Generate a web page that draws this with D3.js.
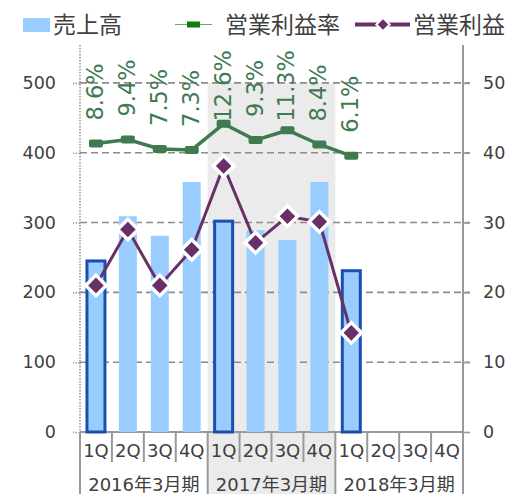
<!DOCTYPE html>
<html>
<head>
<meta charset="utf-8">
<script src="https://cdn.jsdelivr.net/npm/d3@7"></script>
<style>
  body { margin: 0; background: #fff; }
  text { font-family: "DejaVu Sans", "Noto Sans CJK JP", sans-serif; fill: #404040; }
</style>
</head>
<body>
<div id="chart"></div>
<script>
// chart data
var years = ['2016年3月期', '2017年3月期', '2018年3月期'];
var quarters = ['1Q', '2Q', '3Q', '4Q'];
var sales = [245, 309, 281, 358, 302, 289, 275, 358, 231];
var profit = [21, 29, 21, 26.1, 38.1, 27.1, 30.9, 30.1, 14.2];
var rate = [8.6, 9.4, 7.5, 7.3, 12.6, 9.3, 11.3, 8.4, 6.1];
var leftTicks = [0, 100, 200, 300, 400, 500];
var rightTicks = [0, 10, 20, 30, 40, 50];

var width = 511, height = 494;
var plotLeft = 80, plotRight = 463, plotTop = 48, plotBottom = 432;

var green = '#3f7a50', purple = '#673067', barFill = '#99ccff', barEdge = '#1a4fb0';

var svg = d3.select('#chart').append('svg').attr('width', width).attr('height', height);

// one slot per quarter
var slots = [];
years.forEach(function(y, yi) {
  quarters.forEach(function(q, qi) {
    slots.push({ year: y, yi: yi, q: q, qi: qi, key: y + q });
  });
});

var x = d3.scaleBand().domain(slots.map(function(d) { return d.key; })).range([plotLeft, plotRight]);
var yLeft = d3.scaleLinear().domain([0, 550]).range([plotBottom, plotTop]);
var yRight = d3.scaleLinear().domain([0, 55]).range([plotBottom, plotTop]);
// hidden third axis for the margin line
var yRate = d3.scaleLinear().domain([-50, 28]).range([plotBottom, plotTop]);

var bw = x.bandwidth();
var barW = 18;

function cx(i) { return x(slots[i].key) + bw / 2; }

// shaded 2017 period
svg.append('rect')
  .attr('x', x(slots[4].key)).attr('y', yLeft(500))
  .attr('width', bw * 4).attr('height', height - yLeft(500))
  .attr('fill', '#ebebeb');

// grid lines
svg.append('g').selectAll('line')
  .data(leftTicks.slice(1))
  .enter().append('line')
  .attr('x1', plotLeft).attr('x2', plotRight + 7)
  .attr('y1', function(d) { return yLeft(d); })
  .attr('y2', function(d) { return yLeft(d); })
  .attr('stroke', '#8c8c8c').attr('stroke-width', 1.6)
  .attr('stroke-dasharray', '7,4');

// left axis (dotted)
var gl = svg.append('g').attr('transform', 'translate(' + plotLeft + ',0)')
  .call(d3.axisLeft(yLeft).tickValues(leftTicks).tickSize(7).tickPadding(17));
gl.select('.domain').remove();
gl.selectAll('.tick line').attr('stroke', '#999').attr('stroke-width', 1.6).attr('stroke-dasharray', '1.5,1.5');
gl.selectAll('.tick text').style('font-size', '17.5px').attr('fill', '#404040');
svg.append('line')
  .attr('x1', plotLeft).attr('x2', plotLeft).attr('y1', plotTop - 3).attr('y2', plotBottom)
  .attr('stroke', '#999').attr('stroke-width', 1.6).attr('stroke-dasharray', '1.5,1.5');

// right axis
var gr = svg.append('g').attr('transform', 'translate(' + plotRight + ',0)')
  .call(d3.axisRight(yRight).tickValues(rightTicks).tickSize(7).tickPadding(13));
gr.select('.domain').remove();
gr.selectAll('.tick line').attr('stroke', '#999').attr('stroke-width', 1.6);
gr.selectAll('.tick text').style('font-size', '17.5px').attr('fill', '#404040');
svg.append('line')
  .attr('x1', plotRight).attr('x2', plotRight).attr('y1', plotTop - 3).attr('y2', height)
  .attr('stroke', '#999').attr('stroke-width', 2);

// bottom axis line
svg.append('line')
  .attr('x1', plotLeft).attr('x2', plotRight).attr('y1', plotBottom).attr('y2', plotBottom)
  .attr('stroke', '#999').attr('stroke-width', 2);

// category separators
svg.append('g').selectAll('line')
  .data(slots.concat([null]))
  .enter().append('line')
  .attr('x1', function(d, i) { return plotLeft + i * bw; })
  .attr('x2', function(d, i) { return plotLeft + i * bw; })
  .attr('y1', plotBottom)
  .attr('y2', function(d, i) { return i % 4 === 0 ? height : plotBottom + 30; })
  .attr('stroke', '#999').attr('stroke-width', 2);

svg.append('g').selectAll('text')
  .data(slots)
  .enter().append('text')
  .attr('x', function(d) { return x(d.key) + bw / 2; })
  .attr('y', plotBottom + 25)
  .attr('text-anchor', 'middle')
  .style('font-size', '18px')
  .text(function(d) { return d.q; });

svg.append('g').selectAll('text')
  .data(years)
  .enter().append('text')
  .attr('x', function(d, i) { return plotLeft + (i * 4 + 2) * bw; })
  .attr('y', plotBottom + 59)
  .attr('text-anchor', 'middle')
  .style('font-size', '18px')
  .text(function(d) { return d; });

// bars
svg.append('g').selectAll('rect')
  .data(sales)
  .enter().append('rect')
  .attr('x', function(d, i) { return cx(i) - barW / 2; })
  .attr('y', function(d) { return yLeft(d); })
  .attr('width', barW)
  .attr('height', function(d) { return plotBottom - yLeft(d); })
  .attr('fill', barFill)
  .attr('stroke', function(d, i) { return slots[i].qi === 0 ? barEdge : 'none'; })
  .attr('stroke-width', 3);

// margin line
var rateLine = d3.line()
  .x(function(d, i) { return cx(i); })
  .y(function(d) { return yRate(d); });

svg.append('path')
  .datum(rate)
  .attr('d', rateLine)
  .attr('fill', 'none').attr('stroke', green).attr('stroke-width', 3.5);

svg.append('g').selectAll('rect')
  .data(rate)
  .enter().append('rect')
  .attr('x', function(d, i) { return cx(i) - 7; })
  .attr('y', function(d) { return yRate(d) - 4; })
  .attr('width', 14).attr('height', 8).attr('rx', 2)
  .attr('fill', green);

// margin labels, rotated, kept under the top of the plot
var labels = svg.append('g').selectAll('text')
  .data(rate)
  .enter().append('text')
  .attr('text-anchor', 'start')
  .attr('dominant-baseline', 'central')
  .style('font-size', '22.5px')
  .style('fill', green)
  .text(function(d) { return d.toFixed(1) + '%'; });

labels.attr('transform', function(d, i) {
  var len = this.getComputedTextLength();
  var b = yRate(d) - 23;
  if (b - len < plotTop + 2) b = plotTop + 2 + len;
  return 'translate(' + (cx(i) - 1) + ',' + b + ') rotate(-90)';
});

// profit line
var profitLine = d3.line()
  .x(function(d, i) { return cx(i); })
  .y(function(d) { return yRight(d); });

svg.append('path')
  .datum(profit)
  .attr('d', profitLine)
  .attr('fill', 'none').attr('stroke', purple).attr('stroke-width', 3);

svg.append('g').selectAll('path')
  .data(profit)
  .enter().append('path')
  .attr('d', d3.symbol().type(d3.symbolSquare).size(210))
  .attr('transform', function(d, i) { return 'translate(' + cx(i) + ',' + yRight(d) + ') rotate(45)'; })
  .attr('fill', purple).attr('stroke', '#fff').attr('stroke-width', 3.5);

// legend
var lg = svg.append('g');
lg.append('rect').attr('x', 23).attr('y', 18).attr('width', 27).attr('height', 14).attr('fill', barFill);
lg.append('text').attr('x', 53).attr('y', 33).style('font-size', '23px').text('売上高');

lg.append('line').attr('x1', 175).attr('x2', 212).attr('y1', 24.5).attr('y2', 24.5)
  .attr('stroke', '#6aa86a').attr('stroke-width', 1);
lg.append('rect').attr('x', 187).attr('y', 21.5).attr('width', 13).attr('height', 6).attr('fill', '#0a800a');
lg.append('text').attr('x', 225).attr('y', 33).style('font-size', '23px').text('営業利益率');

lg.append('line').attr('x1', 355).attr('x2', 410).attr('y1', 24.5).attr('y2', 24.5)
  .attr('stroke', purple).attr('stroke-width', 4);
lg.append('path')
  .attr('d', d3.symbol().type(d3.symbolSquare).size(90))
  .attr('transform', 'translate(383,24.5) rotate(45)')
  .attr('fill', purple).attr('stroke', '#fff').attr('stroke-width', 2);
lg.append('text').attr('x', 413).attr('y', 33).style('font-size', '23px').text('営業利益');
</script>
</body>
</html>
